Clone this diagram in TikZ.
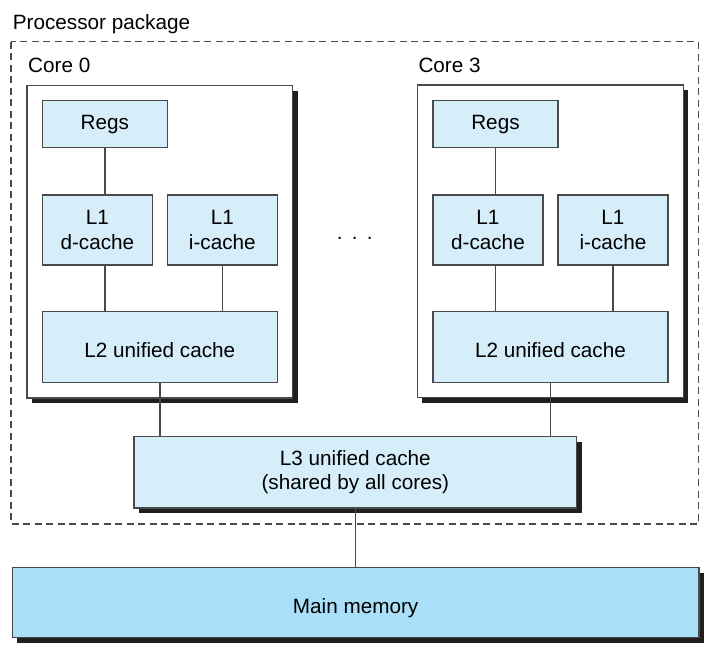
\documentclass[tikz,border=0pt]{standalone}
\usepackage{fontspec}
\setmainfont{Liberation Sans}
\usetikzlibrary{shadows}
\definecolor{cachefill}{HTML}{D6EEFA}
\definecolor{memfill}{HTML}{A9DFF9}
\definecolor{edgecol}{HTML}{4A4A4A}
\definecolor{shadowcol}{HTML}{231F20}
\begin{document}
\begin{tikzpicture}[x=1pt,y=-1pt,
  every node/.style={font=\fontsize{20.7}{24.3}\selectfont, text=black},
  shd/.style={drop shadow={shadow xshift=5pt, shadow yshift=-5.5pt, opacity=1, fill=shadowcol}},
  cbox/.style={draw=edgecol, line width=1.3pt, fill=cachefill, align=center, inner sep=0pt, anchor=north west},
  corebox/.style={draw=edgecol, line width=1.3pt, fill=white, inner sep=0pt, anchor=north west, shd},
  conn/.style={draw=edgecol, line width=1.3pt},
  lbl/.style={anchor=base west, inner sep=0pt}
]
\useasboundingbox (0,0) rectangle (717,650);
% processor package
\draw[edgecol, line width=1.1pt, dash pattern=on 7pt off 4.5pt] (11,41.7) rectangle (698.3,524);
\node[lbl] (pkg) at (12.7,30) {Processor package};

% cores
\node[corebox, minimum width=265.7pt, minimum height=312.6pt] (core0) at (26.3,84.7) {};
\node[corebox, minimum width=266pt, minimum height=312.3pt] (core3) at (416.7,84.3) {};
\node[lbl] (c0lbl) at (28,73) {Core 0};
\node[lbl] (c3lbl) at (418.3,73) {Core 3};

% core 0 contents
\node[cbox, minimum width=125pt, minimum height=47pt] (regs0) at (41.7,100) {Regs};
\node[cbox, minimum width=110pt, minimum height=70pt] (l1d0) at (41.7,194.3) {L1\\d-cache};
\node[cbox, minimum width=110pt, minimum height=70pt] (l1i0) at (166.7,194.3) {L1\\i-cache};
\node[cbox, minimum width=235pt, minimum height=71pt] (l20) at (41.7,311) {\raisebox{-9.9pt}[0pt][0pt]{L2 unified cache}};

% core 3 contents
\node[cbox, minimum width=125pt, minimum height=47pt] (regs3) at (432.3,100) {Regs};
\node[cbox, minimum width=110pt, minimum height=70pt] (l1d3) at (432.3,194.3) {L1\\d-cache};
\node[cbox, minimum width=110pt, minimum height=70pt] (l1i3) at (557.3,194.3) {L1\\i-cache};
\node[cbox, minimum width=235pt, minimum height=71pt] (l23) at (432.3,311) {\raisebox{-9.9pt}[0pt][0pt]{L2 unified cache}};

% dots
\node[anchor=base, inner sep=0pt] (dots) at (354.7,239.5) {.\hspace{9.2pt}.\hspace{9.2pt}.};

% L3
\node[cbox, shd, minimum width=442.7pt, minimum height=71.6pt] (l3) at (133.3,435.7) {L3 unified cache\\(shared by all cores)};

% main memory
\node[cbox, shd, fill=memfill, minimum width=686.6pt, minimum height=70pt] (mem) at (11.7,566.7) {\raisebox{-11.4pt}[0pt][0pt]{Main memory}};

% connectors
\draw[conn] (regs0.south) -- (regs0.south |- l1d0.north);
\draw[conn] (regs0.south |- l1d0.south) -- (regs0.south |- l20.north);
\draw[conn] (l1i0.south) -- (l1i0.south |- l20.north);
\draw[conn] (regs3.south) -- (regs3.south |- l1d3.north);
\draw[conn] (regs3.south |- l1d3.south) -- (regs3.south |- l23.north);
\draw[conn] (l1i3.south) -- (l1i3.south |- l23.north);
\draw[conn] (l20.south) -- (l20.south |- l3.north);
\draw[conn] (l23.south) -- (l23.south |- l3.north);
\draw[conn] (l3.south) -- (l3.south |- mem.north);
\end{tikzpicture}
\end{document}
